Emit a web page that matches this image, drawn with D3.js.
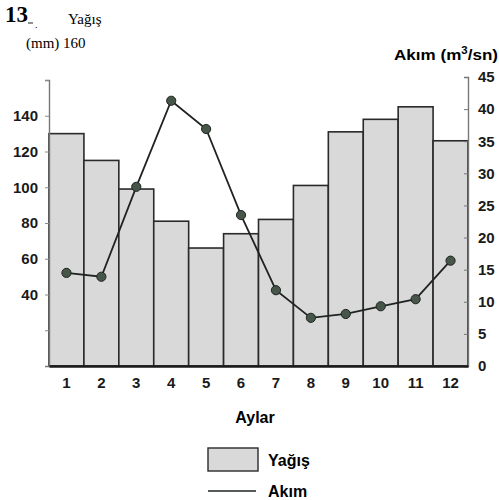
<!DOCTYPE html>
<html>
<head>
<meta charset="utf-8">
<script src="https://cdn.jsdelivr.net/npm/d3@7"></script>
<style>
  body { margin: 0; background: #fff; }
  svg { display: block; }
  .tick text { font-family: "Liberation Sans", Arial, sans-serif; font-weight: bold; font-size: 15px; fill: #1a1a1a; }
</style>
</head>
<body>
<script>
const months = ['1','2','3','4','5','6','7','8','9','10','11','12'];
const yagis = [130, 115, 99, 81, 66, 74, 82, 101, 131, 138, 145, 126];   // mm
const akim = [14.5, 13.9, 27.9, 41.3, 36.9, 23.5, 11.8, 7.5, 8.1, 9.3, 10.4, 16.4];  // m3/sn
const leftTicks = [40, 60, 80, 100, 120, 140];
const rightTicks = [0, 5, 10, 15, 20, 25, 30, 35, 40, 45];

const width = 499, height = 500;
const margin = { left: 49, right: 31, top: 78, bottom: 134 };
const plotBottom = height - margin.bottom;

const svg = d3.select("body").append("svg")
    .attr("width", width).attr("height", height);

const x = d3.scaleBand()
    .domain(months)
    .range([margin.left, width - margin.right])
    .padding(0);

const yL = d3.scaleLinear().domain([0, 160]).range([plotBottom, margin.top + 2]);
const yR = d3.scaleLinear().domain([0, 45]).range([plotBottom, margin.top - 1]);

// bars
svg.append("g").selectAll("rect")
    .data(yagis)
    .join("rect")
    .attr("x", (d, i) => x(months[i]))
    .attr("y", d => yL(d))
    .attr("width", x.bandwidth())
    .attr("height", d => plotBottom - yL(d))
    .attr("fill", "#d9d9d9")
    .attr("stroke", "#2a2a2a")
    .attr("stroke-width", 1.6);

// left axis
const leftAxis = svg.append("g")
    .attr("transform", `translate(${margin.left},0)`)
    .call(d3.axisLeft(yL).tickValues([20, 40, 60, 80, 100, 120, 140, 160]).tickSize(4).tickPadding(7)
        .tickFormat(d => leftTicks.includes(d) ? d : ""));
leftAxis.select(".domain").attr("stroke", "#777").attr("stroke-width", 1.4);
leftAxis.selectAll(".tick line").attr("stroke", "#888");

// right axis
const rightAxis = svg.append("g")
    .attr("transform", `translate(${width - margin.right},0)`)
    .call(d3.axisRight(yR).tickValues(rightTicks).tickSize(-4).tickPadding(10));
rightAxis.select(".domain").attr("stroke", "#777").attr("stroke-width", 1.4);
rightAxis.selectAll(".tick line").attr("stroke", "#777");
rightAxis.selectAll(".tick text").style("text-anchor", "start");

// bottom axis
const bottomAxis = svg.append("g")
    .attr("transform", `translate(0,${plotBottom})`)
    .call(d3.axisBottom(x).tickSize(0).tickPadding(11));
bottomAxis.select(".domain").attr("stroke", "#1a1a1a").attr("stroke-width", 2.4);

// line
const line = d3.line()
    .x((d, i) => x(months[i]) + x.bandwidth() / 2)
    .y(d => yR(d));

svg.append("path")
    .datum(akim)
    .attr("d", line)
    .attr("fill", "none")
    .attr("stroke", "#1f2420")
    .attr("stroke-width", 1.8);

svg.append("g").selectAll("circle")
    .data(akim)
    .join("circle")
    .attr("cx", (d, i) => x(months[i]) + x.bandwidth() / 2)
    .attr("cy", d => yR(d))
    .attr("r", 4.6)
    .attr("fill", "#46574a")
    .attr("stroke", "#1f2420")
    .attr("stroke-width", 1);

// titles
const serif = '"Liberation Serif", "DejaVu Serif", serif';
const sans = '"Liberation Sans", Arial, sans-serif';

svg.append("text").attr("x", 5).attr("y", 22)
    .style("font-family", serif).style("font-weight", "bold").style("font-size", "23px")
    .text("13");
svg.append("line").attr("x1", 28).attr("x2", 33).attr("y1", 23).attr("y2", 23)
    .attr("stroke", "#222").attr("stroke-width", 1);
svg.append("text").attr("x", 35).attr("y", 28)
    .style("font-family", serif).style("font-size", "10px").text(".");
svg.append("text").attr("x", 68).attr("y", 24)
    .style("font-family", serif).style("font-size", "15px").text("Yağış");
svg.append("text").attr("x", 26).attr("y", 48)
    .style("font-family", serif).style("font-size", "15px").text("(mm) 160");

svg.append("text").attr("x", 394).attr("y", 60)
    .style("font-family", sans).style("font-weight", "bold").style("font-size", "15px")
    .attr("textLength", 104).attr("lengthAdjust", "spacingAndGlyphs")
    .html('Akım (m<tspan dy="-6" font-size="10px">3</tspan><tspan dy="6">/sn)</tspan>');

svg.append("text").attr("x", 255).attr("y", 423).attr("text-anchor", "middle")
    .style("font-family", sans).style("font-weight", "bold").style("font-size", "16px")
    .text("Aylar");

// legend
svg.append("rect").attr("x", 208).attr("y", 448).attr("width", 50).attr("height", 23)
    .attr("fill", "#d9d9d9").attr("stroke", "#2a2a2a").attr("stroke-width", 1.4);
svg.append("text").attr("x", 268).attr("y", 466)
    .style("font-family", sans).style("font-weight", "bold").style("font-size", "16px")
    .text("Yağış");
svg.append("line").attr("x1", 208).attr("x2", 256).attr("y1", 491).attr("y2", 491)
    .attr("stroke", "#1f2420").attr("stroke-width", 1.6);
svg.append("text").attr("x", 268).attr("y", 497)
    .style("font-family", sans).style("font-weight", "bold").style("font-size", "16px")
    .text("Akım");
</script>
</body>
</html>
